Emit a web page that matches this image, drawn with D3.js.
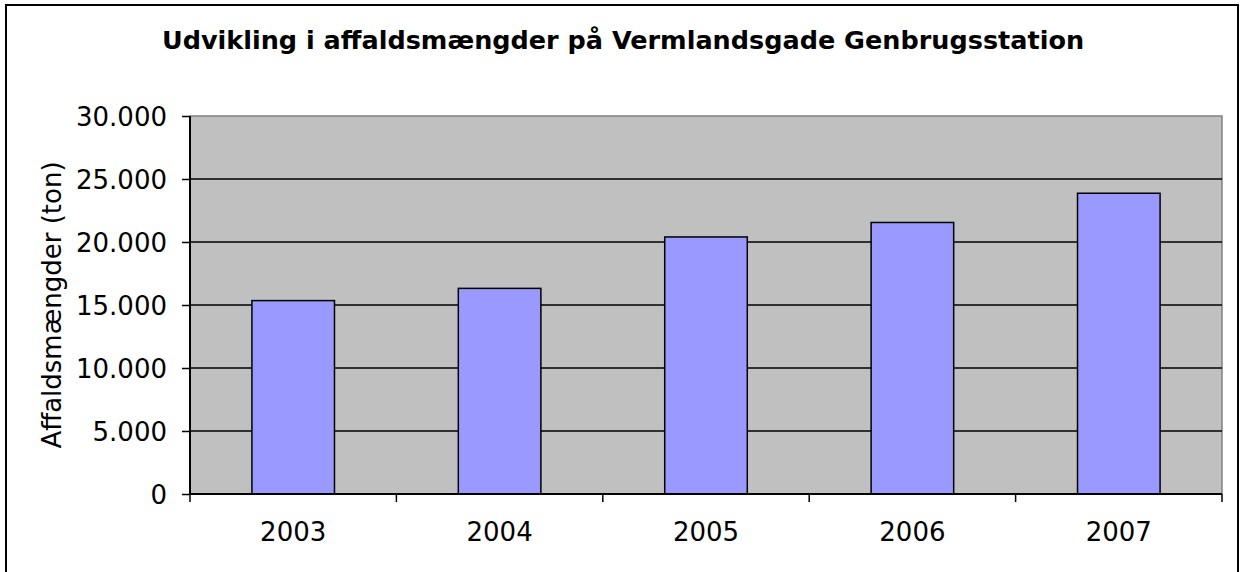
<!DOCTYPE html>
<html>
<head>
<meta charset="utf-8">
<script src="https://cdn.jsdelivr.net/npm/d3@7"></script>
<style>
  body { margin: 0; background: #fff; }
  text { font-family: "DejaVu Sans", Verdana, sans-serif; fill: #000; }
</style>
</head>
<body>
<svg width="1241" height="572"></svg>
<script>
var years = ["2003", "2004", "2005", "2006", "2007"],
    amounts = [15350, 16320, 20400, 21550, 23870]; // ton
var yTicks = [0, 5000, 10000, 15000, 20000, 25000, 30000];

var svg = d3.select("svg"),
    margin = {top: 116, right: 19, bottom: 78, left: 190},
    width = 1241 - margin.left - margin.right,
    height = 572 - margin.top - margin.bottom;

// outer chart border (bottom edge runs off the picture)
svg.append("rect")
    .attr("x", 6).attr("y", 5)
    .attr("width", 1232).attr("height", 600)
    .attr("fill", "none")
    .attr("stroke", "#000")
    .attr("stroke-width", 2);

svg.append("text")
    .attr("x", 623).attr("y", 49)
    .attr("text-anchor", "middle")
    .style("font-size", "25.5px")
    .style("font-weight", "bold")
    .text("Udvikling i affaldsmængder på Vermlandsgade Genbrugsstation");

var g = svg.append("g").attr("transform", "translate(" + margin.left + "," + margin.top + ")");

var x = d3.scaleBand().domain(years).range([0, width]).paddingInner(0.6).paddingOuter(0.3);
var xb = d3.scaleBand().domain(years).range([0, width]);
var y = d3.scaleLinear().domain([0, 30000]).range([height, 0]);

var fmt = function(d) { return d3.format(",")(d).replace(/,/g, "."); };

// plot area
g.append("rect")
    .attr("width", width).attr("height", height)
    .attr("fill", "#c0c0c0")
    .attr("stroke", "#808080")
    .attr("stroke-width", 1.5);

// gridlines
g.selectAll(".grid")
  .data(yTicks.filter(function(d) { return d > 0 && d < 30000; }))
  .enter().append("line")
    .attr("x1", 0).attr("x2", width)
    .attr("y1", function(d) { return y(d); })
    .attr("y2", function(d) { return y(d); })
    .attr("stroke", "#000")
    .attr("stroke-width", 1.5);

// bars
g.selectAll(".bar")
  .data(amounts)
  .enter().append("rect")
    .attr("x", function(d, i) { return x(years[i]); })
    .attr("y", function(d) { return y(d); })
    .attr("width", x.bandwidth())
    .attr("height", function(d) { return height - y(d); })
    .attr("fill", "#9999ff")
    .attr("stroke", "#000")
    .attr("stroke-width", 1.5);

// y axis
var yAxis = g.append("g")
    .call(d3.axisLeft(y).tickValues(yTicks).tickFormat(fmt).tickSize(8).tickPadding(15));
yAxis.select(".domain").attr("stroke-width", 2).attr("d", "M0," + height + "V0");
yAxis.selectAll(".tick line").attr("stroke-width", 1.5);
yAxis.selectAll("text").style("font-size", "26px").attr("dy", "0.36em");

// x axis with ticks at category boundaries
var xAxis = g.append("g").attr("transform", "translate(0," + height + ")");
xAxis.append("line").attr("x1", 0).attr("x2", width).attr("stroke", "#000").attr("stroke-width", 2);
xAxis.selectAll(".xt")
  .data(d3.range(years.length + 1))
  .enter().append("line")
    .attr("x1", function(i) { return i * xb.step(); })
    .attr("x2", function(i) { return i * xb.step(); })
    .attr("y1", 0).attr("y2", 8)
    .attr("stroke", "#000").attr("stroke-width", 1.5);
xAxis.selectAll(".xl")
  .data(years)
  .enter().append("text")
    .attr("x", function(d) { return xb(d) + xb.bandwidth() / 2; })
    .attr("y", 47)
    .attr("text-anchor", "middle")
    .style("font-size", "26px")
    .text(function(d) { return d; });

// y axis title
svg.append("text")
    .attr("transform", "translate(61," + (margin.top + height / 2) + ") rotate(-90)")
    .attr("text-anchor", "middle")
    .style("font-size", "26px")
    .text("Affaldsmængder (ton)");
</script>
</body>
</html>
